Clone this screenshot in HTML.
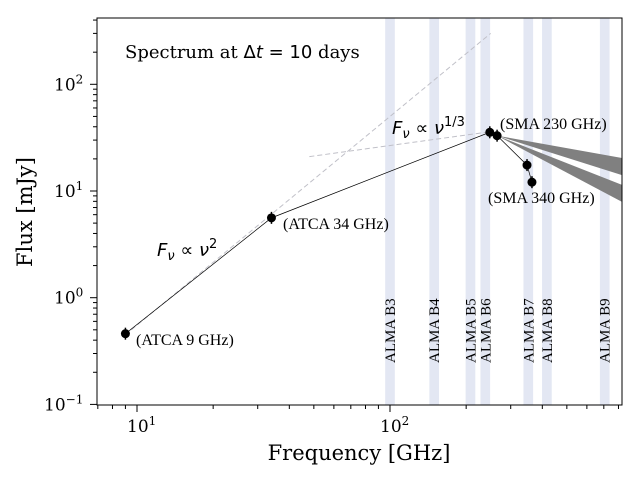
<!DOCTYPE html>
<html><head><meta charset="utf-8"><style>
body{margin:0;background:#fff}
</style></head><body>
<svg id="c" width="640" height="480" xmlns="http://www.w3.org/2000/svg" font-family="DejaVu Serif, Liberation Serif, serif"></svg>
<script>
const freqs=[9,34,248,265,348,364];
const fluxes=[0.46,5.6,35.5,33,17.5,12.1];
const labels=["(ATCA 9 GHz)","(ATCA 34 GHz)","(SMA 230 GHz)","(SMA 340 GHz)"];
const bands=["ALMA B3","ALMA B4","ALMA B5","ALMA B6","ALMA B7","ALMA B8","ALMA B9"];
const bandCenter=[100,149.5,208,238,352,417,706];
const xTicks=[10,100];
const yTicks=[0.1,1,10,100];
const yTickLabels=["10","10","10","10"];
const yTickExp=["−1","0","1","2"];
const fanUpper=[[265,33],[826,20.4],[826,14.1]];
const fanLower=[[265,33],[826,11.4],[826,7.9]];
const L=97,R=622,T=18,B=405;
const X=v=>137+253*(Math.log10(v)-1);
const Y=v=>191-106.7*(Math.log10(v)-1);
const S=document.getElementById('c');const NS="http://www.w3.org/2000/svg";
function el(t,a,p){const e=document.createElementNS(NS,t);for(const k in a)e.setAttribute(k,a[k]);(p||S).appendChild(e);return e;}
const SER='font-family:"Liberation Serif","DejaVu Serif",serif';
bands.forEach((b,i)=>{
 const x0=X(bandCenter[i]/1.045),x1=X(bandCenter[i]*1.045);
 const r=el('rect',{x:x0,y:T,width:x1-x0,height:B-T,fill:'#e3e7f3'});
 
 
 const cx=(x0+x1)/2+5;
 const t=el('text',{x:0,y:0,'font-size':15,style:SER,transform:`translate(${cx},363) rotate(-90)`});t.textContent=b;
 
 
});
const g1=el('line',{x1:X(9.5),y1:Y(0.5),x2:X(250),y2:Y(300),stroke:'#c0c0c8','stroke-dasharray':'5,3'});


const g2=el('line',{x1:X(48),y1:Y(21),x2:X(250),y2:Y(36),stroke:'#c0c0c8','stroke-dasharray':'5,3'});


[fanUpper,fanLower].forEach((f,i)=>{
 const p=el('polygon',{points:f.map(q=>X(q[0])+','+Y(q[1])).join(' '),fill:'#808080'});
 
 
});
const ln=el('polyline',{points:[0,1,2,3].map(i=>X(freqs[i])+','+Y(fluxes[i])).join(' '),fill:'none',stroke:'#000','stroke-width':0.7});


const ln2=el('polyline',{points:[3,4,5].map(i=>X(freqs[i])+','+Y(fluxes[i])).join(' '),fill:'none',stroke:'#000','stroke-width':0.7});


freqs.forEach((f,i)=>{
 const c=el('circle',{cx:X(f),cy:Y(fluxes[i]),r:4.5,fill:'#000'});
 
 
 el('line',{x1:X(f),x2:X(f),y1:Y(fluxes[i])-6,y2:Y(fluxes[i])+6,stroke:'#000','stroke-width':1.5});
});
const lp=[[136,345],[283,229],[500,129],[488,203]];
labels.forEach((s,i)=>{const t=el('text',{x:lp[i][0],y:lp[i][1],'font-size':16,style:SER});t.textContent=s;
 
 });
const fr=el('rect',{x:L,y:T,width:R-L,height:B-T,fill:'none',stroke:'#000','stroke-width':1});


for(let d=1;d<=3;d++)for(let m=1;m<10;m++){const v=m*Math.pow(10,d-1);const x=X(v);if(x<L||x>R)continue;
 el('line',{x1:x,x2:x,y1:B,y2:B+(m==1?7:4),stroke:'#000'});}
for(let d=-1;d<=2;d++)for(let m=1;m<10;m++){const v=m*Math.pow(10,d);const y=Y(v);if(y<T||y>B+1)continue;
 el('line',{x1:L,x2:L-(m==1?7:4),y1:y,y2:y,stroke:'#000'});}
xTicks.forEach(v=>{const t=el('text',{x:X(v)-10,y:B+27,'font-size':17});t.innerHTML='10<tspan font-size="12" dy="-7">'+Math.log10(v)+'</tspan>';
 
 });
yTicks.forEach((v,i)=>{const t=el('text',{x:yTickExp[i].length>1?44:54,y:Y(v)+6,'font-size':17});t.innerHTML=yTickLabels[i]+'<tspan font-size="12" dy="-7">'+yTickExp[i]+'</tspan>';
 
 });
const xt=el('text',{x:359,y:460,'font-size':21,'text-anchor':'middle'});xt.textContent='Frequency [GHz]';


const yt=el('text',{x:0,y:0,'font-size':21,'text-anchor':'middle',transform:'translate(32,212) rotate(-90)'});yt.textContent='Flux [mJy]';


const ti=el('text',{x:125,y:58,'font-size':18});ti.innerHTML='Spectrum at <tspan style="font-family:DejaVu Sans,sans-serif">Δ</tspan><tspan style="font-family:DejaVu Sans,sans-serif;font-style:oblique">t</tspan><tspan style="font-family:DejaVu Sans,sans-serif"> = 10</tspan> days';


const a1=el('text',{x:157,y:256,'font-size':18,style:'font-family:DejaVu Sans,sans-serif'});a1.innerHTML='<tspan font-style="oblique">F</tspan><tspan font-size="13" dy="4" font-style="oblique">ν</tspan><tspan dy="-4"> ∝ </tspan><tspan font-style="oblique">ν</tspan><tspan font-size="13" dy="-8">2</tspan>';


const a2=el('text',{x:392,y:134,'font-size':18,style:'font-family:DejaVu Sans,sans-serif'});a2.innerHTML='<tspan font-style="oblique">F</tspan><tspan font-size="13" dy="4" font-style="oblique">ν</tspan><tspan dy="-4"> ∝ </tspan><tspan font-style="oblique">ν</tspan><tspan font-size="13" dy="-8">1/3</tspan>';


</script>
</body></html>
